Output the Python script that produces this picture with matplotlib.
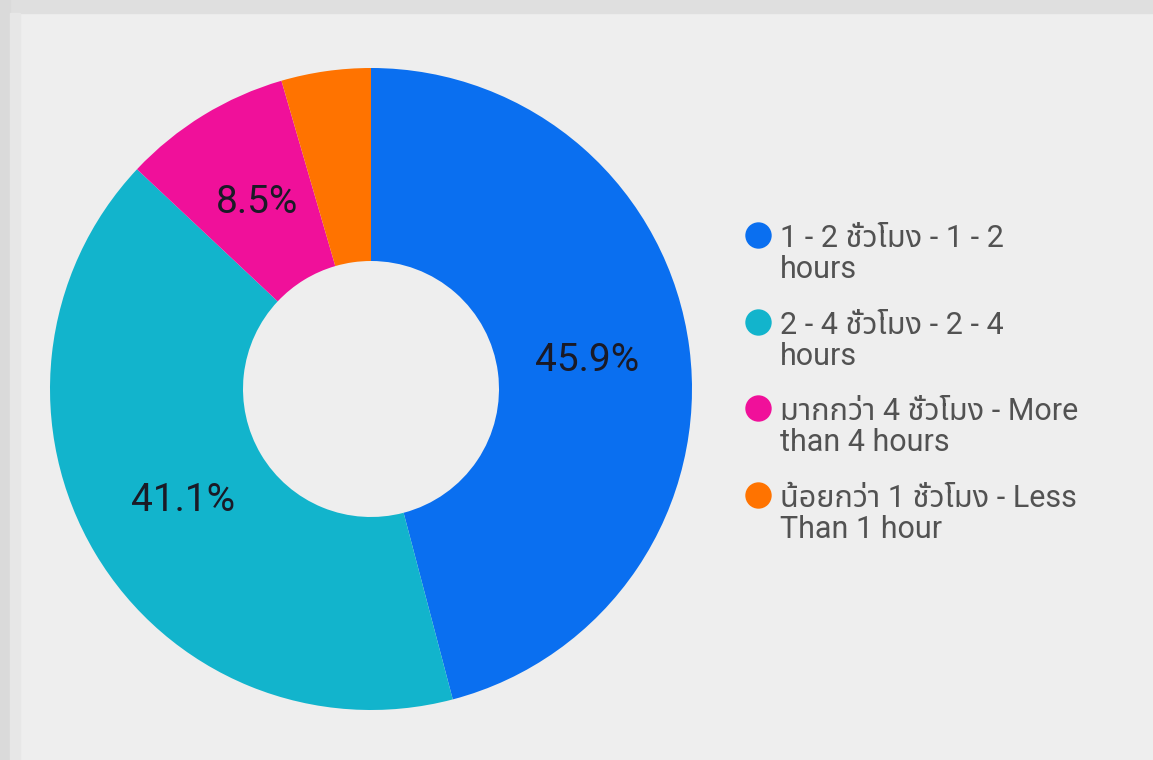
import matplotlib
matplotlib.use("Agg")
import matplotlib.pyplot as plt
from matplotlib.lines import Line2D
from matplotlib.patches import Rectangle
from matplotlib.legend_handler import HandlerLine2D

# answer shares (percent), clockwise from 12 o'clock
labels = [
    "1 - 2 ชั่วโมง - 1 - 2\nhours",
    "2 - 4 ชั่วโมง - 2 - 4\nhours",
    "มากกว่า 4 ชั่วโมง - More\nthan 4 hours",
    "น้อยกว่า 1 ชั่วโมง - Less\nThan 1 hour",
]
shares = [45.9, 41.1, 8.5, 4.5]
colors = ["#0a6ff0", "#12b4cc", "#f0109a", "#ff7300"]

plt.rcParams['font.family'] = ['Roboto', 'Noto Sans Thai', 'Sarabun', 'DejaVu Sans']

W, H = 1153, 760


class TopMarker(HandlerLine2D):
    """Legend marker lifted up to the first line of a two-line label."""

    def create_artists(self, legend, orig_handle, xdescent, ydescent,
                       width, height, fontsize, trans):
        artists = super().create_artists(legend, orig_handle, xdescent, ydescent,
                                         width, height, fontsize, trans)
        for a in artists:
            a.set_ydata([y + 0.65 * fontsize for y in a.get_ydata()])
        return artists


fig = plt.figure(figsize=(W / 100, H / 100), dpi=100, facecolor="#eeeeee")

# card frame: darker strips along the top and left edge
fig.patches.append(Rectangle((0, 1 - 13 / H), 1, 13 / H, transform=fig.transFigure,
                             color="#dfdfdf", zorder=0))
fig.patches.append(Rectangle((0, 0), 10 / W, 1, transform=fig.transFigure,
                             color="#dadada", zorder=0))
fig.patches.append(Rectangle((10 / W, 0), 10 / W, 1 - 13 / H, transform=fig.transFigure,
                             color="#e7e7e7", zorder=0))

# axes in pixel units so the donut sits where it does in the reference
ax = fig.add_axes([0, 0, 1, 1])

outer = 321
wedges, texts, autotexts = ax.pie(
    shares,
    colors=colors,
    startangle=90,
    counterclock=False,
    center=(371, 371),
    radius=outer,
    frame=True,
    autopct=lambda p: "%.1f%%" % p if p > 5 else "",
    pctdistance=0.68,
    wedgeprops=dict(width=outer - 128, edgecolor="none"),
    textprops=dict(fontsize=28, color="#1a1a26"),
)
ax.set_xlim(0, W)
ax.set_ylim(0, H)
ax.set_aspect("equal")
ax.axis("off")

handles = [Line2D([], [], marker="o", linestyle="none", markersize=19,
                  markerfacecolor=c, markeredgecolor="none") for c in colors]
leg = ax.legend(handles, labels, loc="upper left",
                bbox_to_anchor=(731 / W, 1 - 209 / H),
                handler_map={Line2D: TopMarker()},
                frameon=False, fontsize=22, handlelength=0.75,
                handletextpad=0.35, labelspacing=0.875, borderpad=0)
for t in leg.get_texts():
    t.set_color("#525252")
    t.set_linespacing(1.08)

fig.savefig("out.png", facecolor=fig.get_facecolor())
